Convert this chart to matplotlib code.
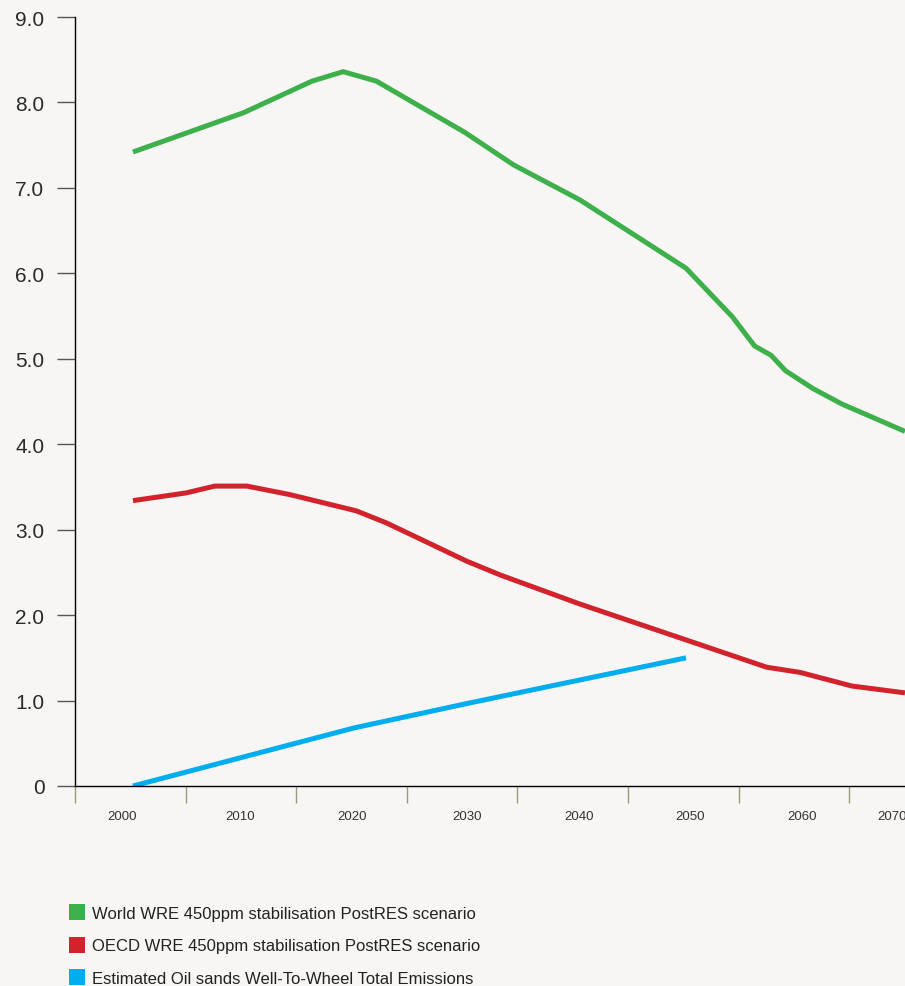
import matplotlib.pyplot as plt
from matplotlib.patches import Patch
from matplotlib.ticker import FixedLocator, NullFormatter

plt.rcParams['font.family'] = ['Liberation Sans', 'DejaVu Sans']

# series
world_years = [2000, 2010, 2016.2, 2019, 2022, 2030, 2034.4, 2040.4, 2050,
               2054.2, 2056.2, 2057.7, 2059, 2061.5, 2064.1, 2069.8]
world_vals = [7.42, 7.88, 8.25, 8.36, 8.25, 7.65, 7.27, 6.86, 6.06,
              5.49, 5.15, 5.04, 4.86, 4.65, 4.47, 4.15]

oecd_years = [2000, 2004.8, 2007.4, 2010.3, 2014.2, 2020.2, 2022.9, 2030.2,
              2033.2, 2040.4, 2050, 2057.3, 2060.3, 2065, 2069.8]
oecd_vals = [3.34, 3.43, 3.51, 3.51, 3.41, 3.22, 3.08, 2.63,
             2.47, 2.13, 1.71, 1.39, 1.33, 1.17, 1.09]

oil_years = [2000, 2010, 2020, 2030, 2040, 2050]
oil_vals = [0.0, 0.34, 0.68, 0.96, 1.23, 1.50]

y_ticks = [0, 1, 2, 3, 4, 5, 6, 7, 8, 9]
y_labels = ['0', '1.0', '2.0', '3.0', '4.0', '5.0', '6.0', '7.0', '8.0', '9.0']
decade_labels = ['2000', '2010', '2020', '2030', '2040', '2050', '2060', '2070']

series_names = ['World WRE 450ppm stabilisation PostRES scenario',
                'OECD WRE 450ppm stabilisation PostRES scenario',
                'Estimated Oil sands Well-To-Wheel Total Emissions']
colors = ['#3db04b', '#d2232c', '#00aeef']
bg = '#f7f6f4'

fig = plt.figure(figsize=(9.05, 9.87), dpi=100, facecolor=bg)
ax = fig.add_axes([75 / 905, 200 / 987, 830 / 905, 769 / 987], facecolor=bg)

for yrs, vals, c in zip([world_years, oecd_years, oil_years],
                        [world_vals, oecd_vals, oil_vals], colors):
    ax.plot(yrs, vals, color=c, lw=3.6, solid_capstyle='butt', solid_joinstyle='miter')

ax.set_xlim(1994.76, 2069.8)
ax.set_ylim(0, 9)

for s in ['top', 'right']:
    ax.spines[s].set_visible(False)
for s in ['left', 'bottom']:
    ax.spines[s].set_color('black')
    ax.spines[s].set_linewidth(1.0)

ax.set_yticks(y_ticks)
ax.set_yticklabels(y_labels)
ax.tick_params(axis='y', length=13, width=1, color='#555555', labelsize=15,
               labelcolor='#2a2a2a', pad=9)

# tick marks between decades, labels in the middle
ax.xaxis.set_major_locator(FixedLocator([1994.76 + 10 * k for k in range(8)]))
ax.xaxis.set_major_formatter(NullFormatter())
label_pos = [1999.0, 2009.7, 2019.8, 2030.2, 2040.3, 2050.4, 2060.5, 2068.6]
ax.set_xticks(label_pos, minor=True)
ax.set_xticklabels(decade_labels, minor=True)
ax.tick_params(axis='x', which='major', length=12, width=1, color='#9a9a7c')
ax.tick_params(axis='x', which='minor', length=0, labelsize=9.5,
               labelcolor='#333333', pad=17)

handles = [Patch(facecolor=c, edgecolor='none') for c in colors]
fig.legend(handles, series_names, loc='upper left', bbox_to_anchor=(69 / 905, 1 - 905 / 987),
           frameon=False, fontsize=12, handlelength=0.95, handleheight=1.1,
           handletextpad=0.4, labelspacing=0.95, borderaxespad=0, borderpad=0,
           labelcolor='#222222')

fig.savefig('out.png', dpi=100, facecolor=bg)
